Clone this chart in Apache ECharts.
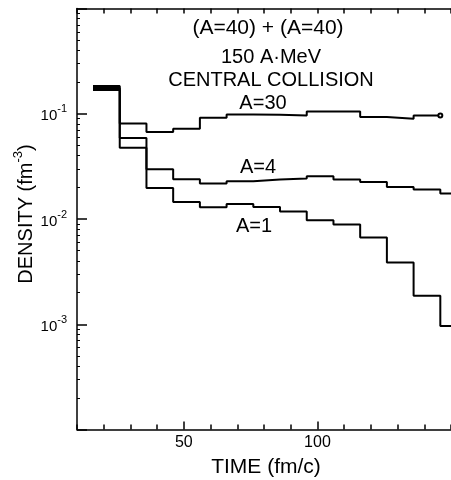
<!DOCTYPE html>
<html>
<head>
<meta charset="utf-8">
<script src="https://cdn.jsdelivr.net/npm/echarts@6/dist/echarts.min.js"></script>
<style>html,body{margin:0;padding:0;background:#fff}#c{width:451px;height:480px}</style>
</head>
<body>
<div id="c"></div>
<script>
// bin left edges (fm/c)
const edges = [16, 26, 36, 46, 56, 66, 76, 86, 96, 106, 116, 126, 136, 146];
const a30 = [0.1835, 0.081, 0.067, 0.072, 0.0916, 0.0985, 0.098, 0.096, 0.105, 0.105, 0.093, 0.0897, 0.0963];
const a4  = [0.1757, 0.0587, 0.0297, 0.0238, 0.0217, 0.0228, 0.0237, 0.0243, 0.0255, 0.0237, 0.0225, 0.0201, 0.0191, 0.0175];
const a1  = [0.1681, 0.0476, 0.0197, 0.0145, 0.0129, 0.0139, 0.0130, 0.0118, 0.00975, 0.00887, 0.00668, 0.00387, 0.00187, 0.00096];
const xTickLabels = [50, 100];
const yTickLabels = [0.1, 0.01, 0.001];
const xMin = 10, xMax = 150;

function stepData(vals, endX, endSymbol) {
  const d = vals.map((v, i) => [edges[i], v]);
  const last = { value: [endX, vals[vals.length - 1]] };
  if (endSymbol) { last.symbol = 'emptyCircle'; last.symbolSize = 4; }
  d.push(last);
  return d;
}

const FONT = 'Liberation Sans';
const chart = echarts.init(document.getElementById('c'));
const minorY = [];
for (let e = -4; e < 0; e++) for (let k = 2; k <= 9; k++) minorY.push(k * Math.pow(10, e));

const lineStyle = { color: '#000', width: 2 };
const txt = (t, x, y, size) => ({ type: 'text', x: x, y: y, style: { text: t, fontFamily: FONT, fontSize: size || 20, fill: '#000', align: 'center', verticalAlign: 'middle' } });
chart.setOption({
  animation: false,
  backgroundColor: '#fff',
  grid: { left: 77, top: 8.5, width: 380, height: 421, containLabel: false },
  xAxis: [
    { type: 'value', min: xMin, max: xMax, interval: 10, position: 'bottom',
      axisLine: { lineStyle: { color: '#000', width: 1.5 } },
      axisTick: { inside: true, length: 5, lineStyle: { color: '#000', width: 1.5 } },
      axisLabel: { customValues: xTickLabels, color: '#000', fontFamily: FONT, fontSize: 16, margin: 5 },
      splitLine: { show: false } },
    { type: 'value', min: xMin, max: xMax, interval: 10, position: 'top',
      axisLine: { lineStyle: { color: '#000', width: 1.5 } },
      axisTick: { inside: true, length: 5, lineStyle: { color: '#000', width: 1.5 } },
      axisLabel: { show: false }, splitLine: { show: false } },
    { type: 'value', min: xMin, max: xMax, position: 'bottom',
      axisLine: { show: false },
      axisTick: { inside: true, length: 8, customValues: xTickLabels, lineStyle: { color: '#000', width: 1.5 } },
      axisLabel: { show: false }, splitLine: { show: false } }
  ],
  yAxis: [
    { type: 'log', logBase: 10, min: 1e-4, max: 1, position: 'left',
      axisLine: { lineStyle: { color: '#000', width: 1.5 } },
      axisTick: { inside: true, length: 10, lineStyle: { color: '#000', width: 1.5 } },
      axisLabel: {
        customValues: yTickLabels, margin: 10,
        formatter: function (v) { const e = Math.round(Math.log10(v)); return '{a|10}{b|' + e + '}'; },
        rich: {
          a: { fontFamily: FONT, fontSize: 15, color: '#000', lineHeight: 20, verticalAlign: 'bottom' },
          b: { fontFamily: FONT, fontSize: 11, color: '#000', lineHeight: 10, verticalAlign: 'top' }
        }
      },
      splitLine: { show: false } },
    { type: 'log', logBase: 10, min: 1e-4, max: 1, position: 'left',
      axisLine: { show: false },
      axisTick: { inside: true, length: 3, customValues: minorY, lineStyle: { color: '#000', width: 1 } },
      axisLabel: { show: false }, splitLine: { show: false } }
  ],
  series: [
    { name: 'A=30', type: 'line', step: 'end', data: stepData(a30, 146, true), symbol: 'none', showSymbol: true,
      itemStyle: { color: '#000', borderColor: '#000' }, lineStyle: lineStyle },
    { name: 'A=4', type: 'line', step: 'end', data: stepData(a4, xMax), symbol: 'none', lineStyle: lineStyle },
    { name: 'A=1', type: 'line', step: 'end', data: stepData(a1, xMax), symbol: 'none', lineStyle: lineStyle }
  ],
  graphic: [
    txt('(A=40) + (A=40)', 268, 28, 21),
    txt('150 A·MeV', 271, 57),
    txt('CENTRAL COLLISION', 271, 80),
    txt('A=30', 263, 103),
    txt('A=4', 258, 167),
    txt('A=1', 254, 226),
    txt('TIME (fm/c)', 266, 467, 21),
    { type: 'text', x: 24, y: 214, rotation: Math.PI / 2,
      style: { text: '{a|DENSITY (fm}{b|-3}{a|)}', align: 'center', verticalAlign: 'middle',
        rich: { a: { fontFamily: FONT, fontSize: 20, fill: '#000', color: '#000', lineHeight: 24, verticalAlign: 'bottom' },
                b: { fontFamily: FONT, fontSize: 13, fill: '#000', color: '#000', lineHeight: 12, verticalAlign: 'top' } } } }
  ]
});
</script>
</body>
</html>
